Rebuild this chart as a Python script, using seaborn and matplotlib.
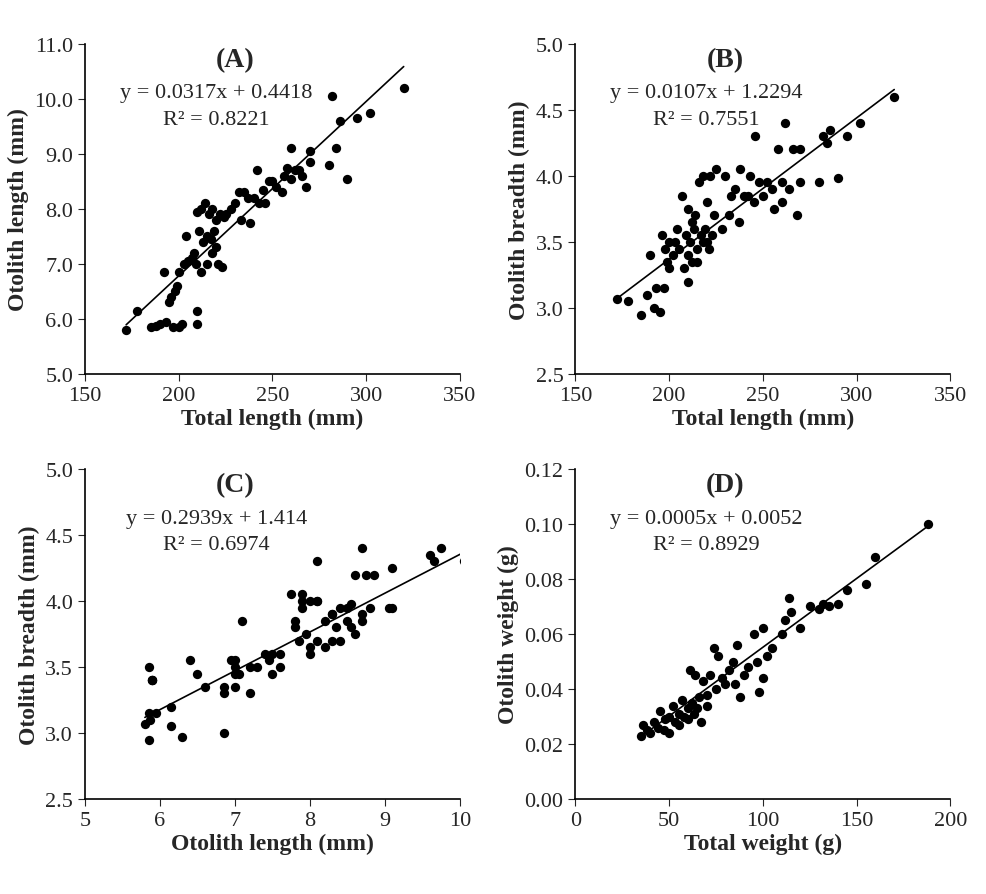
import matplotlib
matplotlib.use("Agg")
import matplotlib.pyplot as plt
import seaborn as sns
import numpy as np

total_length = [172,178,185,188,190,192,193,195,196,197,
                198,199,200,200,202,203,204,205,207,208,
                209,210,210,210,211,212,212,213,214,215,
                215,216,217,218,218,219,220,220,221,222,
                223,224,225,228,230,232,233,235,237,238,
                240,242,243,245,246,248,250,252,255,256,
                258,260,260,262,264,266,268,270,270,280,
                282,284,286,290,295,302,320]
otolith_length = [5.8,6.15,5.85,5.87,5.9,6.85,5.95,6.3,6.4,5.85,
                  6.5,6.6,5.85,6.85,5.9,7.0,7.5,7.05,7.1,7.2,
                  7.0,6.15,5.9,7.95,7.6,8.0,6.85,7.4,8.1,7.5,
                  7.0,7.9,7.45,7.2,8.0,7.6,7.3,7.8,7.0,7.9,
                  6.95,7.85,7.9,8.0,8.1,8.3,7.8,8.3,8.2,7.75,
                  8.2,8.7,8.1,8.35,8.1,8.5,8.5,8.4,8.3,8.6,
                  8.75,9.1,8.55,8.7,8.7,8.6,8.4,8.85,9.05,8.8,
                  10.05,9.1,9.6,8.55,9.65,9.75,10.2]
otolith_breadth = [3.07,3.05,2.95,3.1,3.4,3.0,3.15,2.97,3.55,3.15,
                   3.45,3.35,3.5,3.3,3.4,3.5,3.6,3.45,3.85,3.3,
                   3.55,3.2,3.4,3.75,3.5,3.65,3.35,3.6,3.7,3.45,
                   3.35,3.95,3.55,3.5,4.0,3.6,3.5,3.8,3.45,4.0,
                   3.55,3.7,4.05,3.6,4.0,3.7,3.85,3.9,3.65,4.05,
                   3.85,3.85,4.0,3.8,4.3,3.95,3.85,3.95,3.9,3.75,
                   4.2,3.95,3.8,4.4,3.9,4.2,3.7,4.2,3.95,3.95,
                   4.3,4.25,4.35,3.98,4.3,4.4,4.6]
total_weight = [35,36,38,40,42,44,45,47,48,50,50,52,53,55,55,57,58,60,60,61,
                62,63,64,65,66,67,68,70,70,72,74,75,76,78,80,82,84,85,86,88,
                90,92,95,97,98,100,100,102,105,110,112,114,115,120,125,130,132,
                135,140,145,155,160,188]
otolith_weight = [0.023,0.027,0.025,0.024,0.028,0.026,0.032,0.025,0.029,0.030,0.024,
                  0.034,0.028,0.031,0.027,0.036,0.030,0.033,0.029,0.047,0.035,0.031,
                  0.045,0.033,0.037,0.028,0.043,0.034,0.038,0.045,0.055,0.040,0.052,
                  0.044,0.042,0.047,0.050,0.042,0.056,0.037,0.045,0.048,0.060,0.050,
                  0.039,0.044,0.062,0.052,0.055,0.060,0.065,0.073,0.068,0.062,0.070,
                  0.069,0.071,0.070,0.071,0.076,0.078,0.088,0.100]

sns.set_style("white")
plt.rcParams['font.family'] = ['Liberation Serif', 'DejaVu Serif']

fig = plt.figure(figsize=(9.87, 8.95), dpi=100)
pos = [[0.086, 0.581, 0.38, 0.369], [0.583, 0.581, 0.38, 0.369],
       [0.086, 0.106, 0.38, 0.369], [0.583, 0.106, 0.38, 0.369]]
panels = [
    (total_length, otolith_length, 0.0317, 0.4418, "(A)", "y = 0.0317x + 0.4418", "R² = 0.8221",
     "Total length (mm)", "Otolith length (mm)", (150, 350, 50), (5, 11, 1), "%.1f"),
    (total_length, otolith_breadth, 0.0107, 1.2294, "(B)", "y = 0.0107x + 1.2294", "R² = 0.7551",
     "Total length (mm)", "Otolith breadth (mm)", (150, 350, 50), (2.5, 5, 0.5), "%.1f"),
    (otolith_length, otolith_breadth, 0.2939, 1.414, "(C)", "y = 0.2939x + 1.414", "R² = 0.6974",
     "Otolith length (mm)", "Otolith breadth (mm)", (5, 10, 1), (2.5, 5, 0.5), "%.1f"),
    (total_weight, otolith_weight, 0.0005, 0.0052, "(D)", "y = 0.0005x + 0.0052", "R² = 0.8929",
     "Total weight (g)", "Otolith weight (g)", (0, 200, 50), (0, 0.12, 0.02), "%.2f"),
]
for p, (x, y, m, b, t, eq, r2, xl, yl, xr, yr, fmt) in zip(pos, panels):
    ax = fig.add_axes(p)
    sns.scatterplot(x=x, y=y, ax=ax, color="black", s=45, edgecolor="black", linewidth=0)
    xs = np.array([min(x), max(x)])
    sns.lineplot(x=xs, y=m * xs + b, ax=ax, color="black", linewidth=1.2)
    ax.set_xlim(xr[0], xr[1]); ax.set_ylim(yr[0], yr[1])
    ax.set_xticks(np.arange(xr[0], xr[1] + xr[2] / 2, xr[2]))
    ax.set_yticks(np.arange(yr[0], yr[1] + yr[2] / 2, yr[2]))
    ax.yaxis.set_major_formatter(matplotlib.ticker.FormatStrFormatter(fmt))
    ax.xaxis.set_major_formatter(matplotlib.ticker.FormatStrFormatter("%g"))
    ax.tick_params(labelsize=16, direction="out", length=5, left=True, bottom=True)
    for s in ["top", "right"]:
        ax.spines[s].set_visible(False)
    for s in ["left", "bottom"]:
        ax.spines[s].set_color("black"); ax.spines[s].set_linewidth(1.2)
    ax.set_xlabel(xl, fontsize=17, fontweight="bold", labelpad=2)
    ax.set_ylabel(yl, fontsize=17, fontweight="bold")
    ax.text(0.4, 0.99, t, transform=ax.transAxes, ha="center", va="top", fontsize=20, fontweight="bold")
    ax.text(0.35, 0.88, eq, transform=ax.transAxes, ha="center", va="top", fontsize=16)
    ax.text(0.35, 0.80, r2, transform=ax.transAxes, ha="center", va="top", fontsize=16)

fig.savefig("out.png", dpi=100)
